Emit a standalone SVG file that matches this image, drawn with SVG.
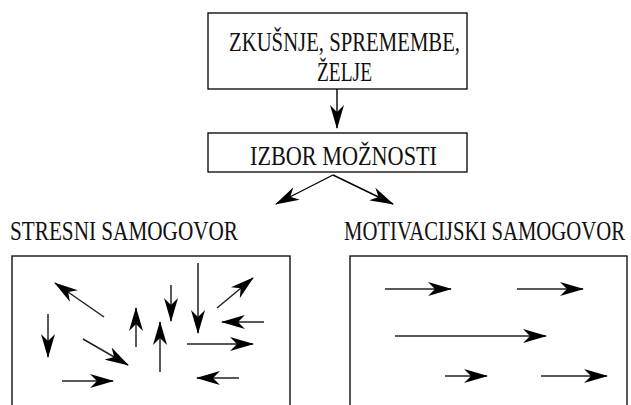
<svg xmlns="http://www.w3.org/2000/svg" width="631" height="405" viewBox="0 0 631 405">
<defs>
<marker id="ah" markerUnits="userSpaceOnUse" markerWidth="24" markerHeight="14" viewBox="0 0 24 14" refX="23" refY="7" orient="auto">
<path d="M0,0 L24,7 L0,14 L7,7 Z" fill="#000"/>
</marker>
<style>
.box{fill:#fff;stroke:#000;stroke-width:1.3}
.t{font-family:'Liberation Serif','Times New Roman',serif;font-size:27px;fill:#111}
.c{stroke:#000;stroke-width:1.4;fill:none;marker-end:url(#ah)}
.g{stroke:#222;stroke-width:1.5;fill:none;marker-end:url(#ah)}
</style>
</defs>
<rect width="631" height="405" fill="#fff"/>
<g id="n1">
<rect class="box" x="208" y="13" width="259" height="76"/>
<text class="t" x="229" y="51" textLength="231" lengthAdjust="spacingAndGlyphs">ZKUŠNJE, SPREMEMBE,</text>
<text class="t" x="317" y="81" textLength="55" lengthAdjust="spacingAndGlyphs">ŽELJE</text>
</g>
<g id="n2">
<rect class="box" x="208" y="133" width="259" height="39"/>
<text class="t" x="250" y="165" textLength="187" lengthAdjust="spacingAndGlyphs">IZBOR MOŽNOSTI</text>
</g>
<g id="n3">
<text class="t" x="10" y="240" textLength="228" lengthAdjust="spacingAndGlyphs">STRESNI SAMOGOVOR</text>
<rect class="box" x="12" y="256" width="278" height="160"/>
</g>
<g id="n4">
<text class="t" transform="translate(344,240) scale(0.76,1)" x="0" y="0" textLength="369.7" lengthAdjust="spacingAndGlyphs">MOTIVACIJSKI SAMOGOVOR</text>
<rect class="box" x="350" y="256" width="277" height="160"/>
</g>
<g id="connectors">
<line class="c" x1="337" y1="89" x2="337" y2="128"/>
<polyline class="c" points="333,175 276,204"/>
<polyline class="c" points="333,175 393,204"/>
</g>
<g id="stress-arrows">
<line class="g" x1="104" y1="317" x2="55" y2="283"/>
<line class="g" x1="48" y1="314" x2="48" y2="357"/>
<line class="g" x1="83" y1="339" x2="128" y2="365"/>
<line class="g" x1="62" y1="381" x2="113" y2="381"/>
<line class="g" x1="136" y1="347" x2="136" y2="308"/>
<line class="g" x1="160" y1="372" x2="160" y2="322"/>
<line class="g" x1="171" y1="285" x2="171" y2="321"/>
<line class="g" x1="198" y1="263" x2="198" y2="333"/>
<line class="g" x1="217" y1="308" x2="253" y2="278"/>
<line class="g" x1="264" y1="322" x2="222" y2="322"/>
<line class="g" x1="187" y1="344" x2="253" y2="344"/>
<line class="g" x1="239" y1="378" x2="197" y2="378"/>
</g>
<g id="motivation-arrows">
<line class="g" x1="385" y1="289" x2="451" y2="289"/>
<line class="g" x1="517" y1="289" x2="583" y2="289"/>
<line class="g" x1="395" y1="336" x2="546" y2="336"/>
<line class="g" x1="445" y1="376" x2="487" y2="376"/>
<line class="g" x1="541" y1="376" x2="607" y2="376"/>
</g>
</svg>
